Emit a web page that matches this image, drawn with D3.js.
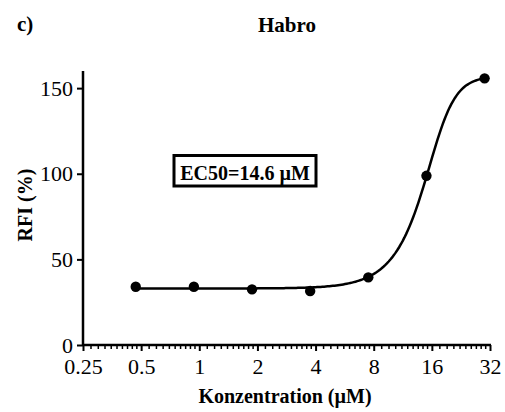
<!DOCTYPE html>
<html><head><meta charset="utf-8">
<script src="https://cdn.jsdelivr.net/npm/d3@7/dist/d3.min.js"></script>
<style>body{margin:0;background:#fff}svg{display:block}text{font-family:"Liberation Serif","Times New Roman",serif;fill:#000}</style>
</head><body><svg id="c" width="505" height="412"></svg>
<script>
const concentrations = [0.46875, 0.9375, 1.875, 3.75, 7.5, 15, 30];
const rfiValues = [34.0, 34.0, 32.5, 31.5, 39.5, 98.8, 155.7];
const xTickValues = [0.25, 0.5, 1, 2, 4, 8, 16, 32];
const xTickLabels = ["0.25", "0.5", "1", "2", "4", "8", "16", "32"];
const yTickValues = [0, 50, 100, 150];
// Fitted asymmetric sigmoidal (5PL) dose-response parameters
const fitBottom = 33, fitTop = 157, fitC = 17.2, fitHill = 7, fitAsym = 0.5;

const svg = d3.select("#c");
const x = d3.scaleLog().base(2).domain([0.25, 32]).range([83, 490]);
const y = d3.scaleLinear().domain([0, 160]).range([345, 71]);

// minor ticks on x
const minor = [];
for (let i = 0; i < xTickValues.length - 1; i++) {
  const b = xTickValues[i];
  for (let k = 1; k <= 9; k++) minor.push(b * (1 + k / 10));
}
svg.append("g").selectAll("line").data(minor).join("line")
  .attr("x1", d => x(d)).attr("x2", d => x(d)).attr("y1", 345).attr("y2", 349)
  .attr("stroke", "#000").attr("stroke-width", 1.5);

const xAxis = svg.append("g").attr("transform", "translate(0,345)")
  .call(d3.axisBottom(x).tickValues(xTickValues).tickFormat((d, i) => xTickLabels[i]).tickSizeOuter(0).tickSize(6).tickPadding(7));
xAxis.select(".domain").attr("stroke-width", 2.5).attr("d", "M83,0H491");
xAxis.selectAll(".tick line").attr("stroke-width", 2);
xAxis.selectAll(".tick text").attr("font-size", 22).attr("font-family", "Liberation Serif");

const yAxis = svg.append("g").attr("transform", "translate(83,0)")
  .call(d3.axisLeft(y).tickValues(yTickValues).tickSizeOuter(0).tickSize(6).tickPadding(4));
yAxis.select(".domain").attr("stroke-width", 2.5).attr("d", "M0,346V71");
yAxis.selectAll(".tick line").attr("stroke-width", 2);
yAxis.selectAll(".tick text").attr("font-size", 22).attr("font-family", "Liberation Serif");

// fitted curve
const curveX = d3.range(0, 201).map(i => concentrations[0] * Math.pow(concentrations[6] / concentrations[0], i / 200));
const model = c => fitBottom + (fitTop - fitBottom) / Math.pow(1 + Math.pow(fitC / c, fitHill), fitAsym);
svg.append("path").datum(curveX)
  .attr("d", d3.line().x(d => x(d)).y(d => y(model(d))))
  .attr("fill", "none").attr("stroke", "#000").attr("stroke-width", 2.5);

svg.append("g").selectAll("circle").data(concentrations).join("circle")
  .attr("cx", d => x(d)).attr("cy", (d, i) => y(rfiValues[i])).attr("r", 5.2).attr("fill", "#000");

// texts
svg.append("text").attr("x", 17).attr("y", 31).attr("font-size", 21).attr("font-weight", "bold").text("c)");
svg.append("text").attr("x", 287).attr("y", 32).attr("text-anchor", "middle").attr("font-size", 21).attr("font-weight", "bold").text("Habro");
svg.append("text").attr("x", 285).attr("y", 403).attr("text-anchor", "middle").attr("font-size", 20).attr("font-weight", "bold").text("Konzentration (µM)");
svg.append("text").attr("transform", "translate(32,205) rotate(-90)").attr("text-anchor", "middle").attr("font-size", 20).attr("font-weight", "bold").text("RFI (%)");

svg.append("rect").attr("x", 174).attr("y", 155.5).attr("width", 142).attr("height", 30.5)
  .attr("fill", "#fff").attr("stroke", "#000").attr("stroke-width", 3);
svg.append("text").attr("x", 245).attr("y", 180).attr("text-anchor", "middle").attr("font-size", 20).attr("font-weight", "bold").text("EC50=14.6 µM");
</script></body></html>
